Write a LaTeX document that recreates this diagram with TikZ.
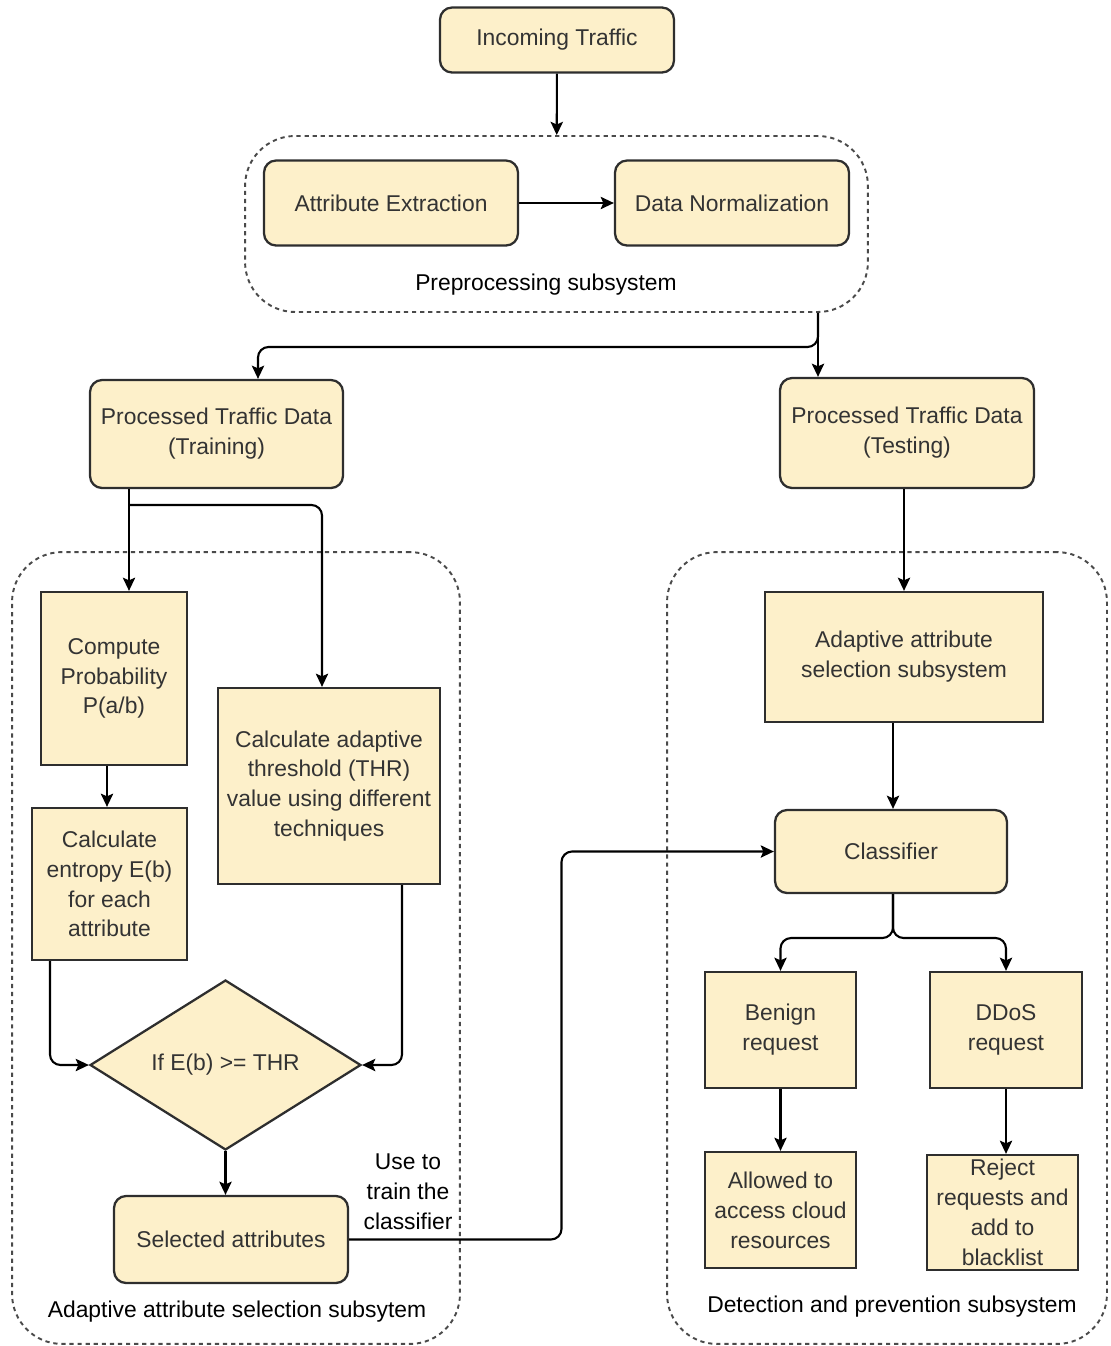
\documentclass[tikz,border=0pt]{standalone}
\usepackage{fontspec}
\setmainfont{Liberation Sans}
\usetikzlibrary{arrows.meta,shapes.geometric,calc}
\definecolor{boxfill}{HTML}{FDF0CA}
\definecolor{boxline}{HTML}{2E2E2E}
\definecolor{boxtext}{HTML}{333333}
\definecolor{dashgray}{HTML}{4A4A4A}
\tikzstyle{rbox}=[rectangle,rounded corners=2.4mm,draw=boxline,fill=boxfill,line width=1.3pt,text=boxtext,align=center]
\tikzstyle{sbox}=[rectangle,draw=boxline,fill=boxfill,line width=1.3pt,text=boxtext,align=center]
\tikzstyle{decision}=[diamond,draw=boxline,fill=boxfill,line width=1.3pt,text=boxtext,inner sep=0pt,align=center]
\tikzstyle{group}=[rectangle,draw=dashgray,dash pattern=on 2.4pt off 2.2pt,line width=1.1pt,rounded corners=1cm]
\tikzstyle{grouplabel}=[text=black]

\begin{document}
\begin{tikzpicture}[x=0.02cm,y=-0.02cm,font=\fontsize{13}{17}\selectfont,>={Stealth[length=7.5pt,width=7pt,inset=1.5pt]}]
\useasboundingbox (0,0) rectangle (1111,1346);

% subsystems
\node (prepbox) at (556.5,224) [group,minimum width=12.46cm,minimum height=3.52cm] {};
\node (selbox) at (236,948) [group,minimum width=8.96cm,minimum height=15.84cm] {};
\node (detbox) at (887,948) [group,minimum width=8.8cm,minimum height=15.84cm] {};
\node (preplabel) at (546,285) [grouplabel] {Preprocessing subsystem};
\node (sellabel) at (237,1312) [grouplabel] {Adaptive attribute selection subsytem};
\node (detlabel) at (892,1307) [grouplabel] {Detection and prevention subsystem};

\node (incoming) at (557,40) [rbox,minimum width=4.68cm,minimum height=1.3cm] {Incoming Traffic};
\node (attrext) at (391,203) [rbox,minimum width=5.08cm,minimum height=1.7cm] {Attribute Extraction};
\node (datanorm) at (732,203) [rbox,minimum width=4.68cm,minimum height=1.7cm] {Data Normalization};

\node (training) at (216.5,434) [rbox,minimum width=5.06cm,minimum height=2.16cm] {Processed Traffic Data\\(Training)};
\node (testing) at (907,433) [rbox,minimum width=5.08cm,minimum height=2.2cm] {Processed Traffic Data\\(Testing)};

% training side
\node (compute) at (114,678.5) [sbox,minimum width=2.92cm,minimum height=3.46cm] {Compute\\Probability\\P(a/b)};
\node (entropy) at (109.5,884) [sbox,minimum width=3.1cm,minimum height=3.04cm] {Calculate\\entropy E(b)\\for each\\attribute};
\node (threshold) at (329,786) [sbox,minimum width=4.44cm,minimum height=3.92cm] {Calculate adaptive\\threshold (THR)\\value using different\\techniques};
\node (cond) at (225.5,1065) [decision,minimum width=5.42cm,minimum height=3.4cm] {If E(b) >= THR};
\node (selected) at (231,1239.5) [rbox,minimum width=4.68cm,minimum height=1.74cm] {Selected attributes};
\node (uselabel) at (408,1192) [text=black,align=center] {Use to\\train the\\classifier};

% testing side
\node (adaptive) at (904,657) [sbox,minimum width=5.56cm,minimum height=2.6cm] {Adaptive attribute\\selection subsystem};
\node (classifier) at (891,851.5) [rbox,minimum width=4.64cm,minimum height=1.66cm] {Classifier};
\node (benign) at (780.5,1030) [sbox,minimum width=3.02cm,minimum height=2.32cm] {Benign\\request};
\node (ddos) at (1006,1030) [sbox,minimum width=3.04cm,minimum height=2.32cm] {DDoS\\request};
\node (allowed) at (780.5,1210) [sbox,minimum width=3.02cm,minimum height=2.32cm] {Allowed to\\access cloud\\resources};
\node (reject) at (1002.5,1212.5) [sbox,inner sep=0pt,minimum width=3.02cm,minimum height=2.3cm] {Reject\\requests and\\add to\\blacklist};

\coordinate (fork1) at (818,347);
\coordinate (fork1l) at (258,347);
\coordinate (fork2) at (129,505);
\coordinate (fork2r) at (322,505);
\coordinate (fork3) at (893,938);

\draw[->,line width=1.2pt] (incoming) -- (prepbox);
\draw[->,line width=1.2pt] (attrext) -- (datanorm);
\draw[->,line width=1.2pt] (prepbox.south -| fork1) -- (testing.north -| fork1);
\draw[->,line width=1.2pt,rounded corners=6pt] (prepbox.south -| fork1) -- (fork1) -- (fork1l) -- (training.north -| fork1l);

\draw[->,line width=1.2pt] (training.south -| fork2) -- (compute.north -| fork2);
\draw[->,line width=1.2pt,rounded corners=6pt] (fork2) -- (fork2r) -- (threshold.north -| fork2r);
\draw[->,line width=1.2pt] (compute.south -| 107,0) -- (entropy.north -| 107,0);
\draw[->,line width=1.2pt,rounded corners=6pt] ([xshift=-1.19cm]entropy.south) |- (cond.west);
\draw[->,line width=1.2pt,rounded corners=6pt] ([xshift=1.46cm]threshold.south) |- (cond.east);
\draw[->,line width=1.2pt] (cond.south) -- (cond.south |- selected.north);
\draw[->,line width=1.2pt,rounded corners=6pt] (selected.east) -| ($(selected.east)!.5!(classifier.west)$) |- (classifier.west);

\draw[->,line width=1.2pt] (testing.south -| adaptive) -- (adaptive.north);
\draw[->,line width=1.2pt] (adaptive.south -| fork3) -- (classifier.north -| fork3);
\draw[->,line width=1.2pt,rounded corners=6pt] (classifier.south -| fork3) -- (fork3) -| (benign.north);
\draw[->,line width=1.2pt,rounded corners=6pt] (classifier.south -| fork3) -- (fork3) -| (ddos.north);
\draw[->,line width=1.2pt] (benign) -- (allowed);
\draw[->,line width=1.2pt] (ddos.south) -- (ddos.south |- reject.north);

\end{tikzpicture}
\end{document}
